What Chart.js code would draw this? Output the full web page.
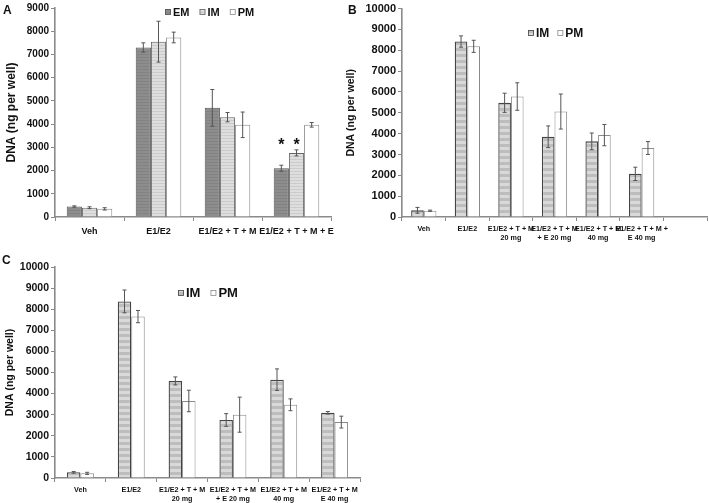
<!DOCTYPE html>
<html>
<head>
<meta charset="utf-8">
<script src="https://cdn.jsdelivr.net/npm/chart.js@4.4.0/dist/chart.umd.min.js"></script>
<style>
  body { margin: 0; background: #fff; width: 709px; height: 503px; overflow: hidden; position: relative; }
  canvas { position: absolute; }
  .tag { position: absolute; font: bold 12px "Liberation Sans", Arial, sans-serif; color: #111; }
</style>
</head>
<body>
<canvas id="chartA" width="345" height="250" style="left:0;top:0"></canvas>
<canvas id="chartB" width="369" height="260" style="left:340px;top:0"></canvas>
<canvas id="chartC" width="362" height="253" style="left:0;top:250px"></canvas>
<div class="tag" style="left:3px;top:3px">A</div>
<div class="tag" style="left:348px;top:3px">B</div>
<div class="tag" style="left:2px;top:253px">C</div>
<script>
// panel A
const catsA = ['Veh', 'E1/E2', 'E1/E2 + T + M', 'E1/E2 + T + M + E'];
const emA = [450, 7300, 4700, 2100];
const emErrA = [30, 200, 790, 130];
const imA = [400, 7550, 4300, 2760];
const imErrA = [40, 880, 200, 130];
const pmA = [350, 7730, 3970, 3970];
const pmErrA = [50, 230, 550, 100];
const starsEmA = [false, false, false, true];
const starsImA = [false, false, false, true];
const ticksA = [0, 1000, 2000, 3000, 4000, 5000, 6000, 7000, 8000, 9000];

// panel B (last category left empty, as in the figure)
const catsB = ['Veh', 'E1/E2', ['E1/E2 + T + M', '20 mg'], ['E1/E2 + T + M', '+ E 20 mg'],
               ['E1/E2 + T + M', '40 mg'], ['E1/E2 + T + M +', 'E 40 mg'], ''];
const imB = [320, 8420, 5480, 3850, 3630, 2070, null];
const imErrB = [140, 270, 460, 520, 400, 320, null];
const pmB = [300, 8190, 5780, 5060, 3930, 3310, null];
const pmErrB = [30, 290, 660, 840, 510, 310, null];

// panel C
const catsC = ['Veh', 'E1/E2', ['E1/E2 + T + M', '20 mg'], ['E1/E2 + T + M', '+ E 20 mg'],
               ['E1/E2 + T + M', '40 mg'], ['E1/E2 + T + M', 'E 40 mg']];
const imC = [270, 8370, 4600, 2750, 4660, 3090];
const imErrC = [40, 540, 190, 300, 510, 60];
const pmC = [220, 7650, 3650, 3000, 3470, 2650];
const pmErrC = [50, 290, 510, 830, 280, 280];

const ticksBC = [0, 1000, 2000, 3000, 4000, 5000, 6000, 7000, 8000, 9000, 10000];

const FONT = '"Liberation Sans", Arial, sans-serif';

function stripes(bg, band, period, bandH) {
  const c = document.createElement('canvas');
  c.width = 8; c.height = period;
  const g = c.getContext('2d');
  g.fillStyle = bg; g.fillRect(0, 0, 8, period);
  g.fillStyle = band; g.fillRect(0, 0, 8, bandH);
  return g.createPattern(c, 'repeat');
}

// error bars + asterisks, positioned through the chart's own scales
const errorBars = {
  id: 'errorBars',
  afterDatasetsDraw(chart) {
    const ctx = chart.ctx, y = chart.scales.y;
    ctx.save();
    chart.data.datasets.forEach((ds, i) => {
      if (!ds.err) return;
      chart.getDatasetMeta(i).data.forEach((bar, j) => {
        const v = ds.data[j], e = ds.err[j];
        if (v == null || e == null) return;
        const top = y.getPixelForValue(v + e), bot = y.getPixelForValue(v - e);
        ctx.strokeStyle = '#555';
        ctx.lineWidth = 1;
        ctx.beginPath();
        ctx.moveTo(bar.x, top); ctx.lineTo(bar.x, bot);
        ctx.moveTo(bar.x - 2, top); ctx.lineTo(bar.x + 2, top);
        ctx.moveTo(bar.x - 2, bot); ctx.lineTo(bar.x + 2, bot);
        ctx.stroke();
      });
    });
    // asterisks: one level per category, above the highest flagged error bar
    const metas = chart.data.datasets.map((ds, i) => chart.getDatasetMeta(i));
    chart.data.labels.forEach((lab, j) => {
      let hi = null;
      chart.data.datasets.forEach(ds => {
        if (ds.stars && ds.stars[j]) hi = Math.max(hi || 0, ds.data[j] + ds.err[j]);
      });
      if (hi == null) return;
      const py = y.getPixelForValue(hi) - 4;
      ctx.fillStyle = '#111';
      ctx.font = 'bold 16px ' + FONT;
      ctx.textAlign = 'center';
      ctx.textBaseline = 'bottom';
      chart.data.datasets.forEach((ds, i) => {
        if (ds.stars && ds.stars[j]) ctx.fillText('*', metas[i].data[j].x, py + 8);
      });
    });
    ctx.restore();
  }
};

// small legend drawn at a fixed spot inside the plot
const boxLegend = {
  id: 'boxLegend',
  afterDraw(chart, args, o) {
    const ctx = chart.ctx;
    let x = o.x;
    ctx.save();
    ctx.font = 'bold ' + o.size + 'px ' + FONT;
    ctx.textBaseline = 'middle';
    chart.data.datasets.forEach(ds => {
      ctx.fillStyle = ds.backgroundColor;
      ctx.fillRect(x, o.y - 3, 6, 6);
      ctx.strokeStyle = ds.borderColor;
      ctx.lineWidth = 0.8;
      ctx.strokeRect(x + 0.5, o.y - 2.5, 5, 5);
      ctx.fillStyle = '#111';
      ctx.fillText(ds.label, x + 8, o.y + 0.5);
      x += 8 + ctx.measureText(ds.label).width + o.gap;
    });
    ctx.restore();
  }
};

function makeChart(id, cats, datasets, cfg) {
  return new Chart(document.getElementById(id), {
    type: 'bar',
    data: { labels: cats, datasets: datasets },
    plugins: [errorBars, boxLegend],
    options: {
      responsive: false,
      animation: false,
      layout: { padding: cfg.padding },
      plugins: {
        legend: { display: false },
        tooltip: { enabled: false },
        boxLegend: cfg.legend
      },
      datasets: { bar: { barPercentage: 1, categoryPercentage: cfg.catPct } },
      scales: {
        x: {
          grid: { offset: true, drawOnChartArea: false, tickLength: 4, color: '#888', lineWidth: 1 },
          border: { color: '#8a8a8a', width: 1.6 },
          ticks: { autoSkip: false, maxRotation: 0, minRotation: 0, padding: cfg.xPad, color: '#111',
                   font: { family: FONT, weight: 'bold', size: cfg.xSize, lineHeight: 1.3 } },
          afterFit: s => { s.height = cfg.xHeight; }
        },
        y: {
          min: 0, max: cfg.max,
          afterBuildTicks: s => { s.ticks = cfg.ticks.map(v => ({ value: v })); },
          grid: { drawOnChartArea: false, tickLength: 4, color: '#888', lineWidth: 1 },
          border: { color: '#8a8a8a', width: 1.6 },
          ticks: { padding: 2, color: '#111', callback: v => String(v),
                   font: { family: FONT, weight: 'bold', size: cfg.ySize } },
          title: { display: true, text: 'DNA (ng per well)', color: '#111', padding: { top: cfg.titleLeft, bottom: 0 },
                   font: { family: FONT, weight: 'bold', size: cfg.titleSize } },
          afterFit: s => { s.width = cfg.yWidth; }
        }
      }
    }
  });
}

const emFill = stripes('#8d8d8d', '#828282', 3, 1);
const imFillA = stripes('#dedede', '#cbcbcb', 3, 1);
const imFill = stripes('#d9d9d9', '#bdbdbd', 6, 3);

makeChart('chartA', catsA, [
  { label: 'EM', data: emA, err: emErrA, stars: starsEmA, backgroundColor: emFill, borderColor: '#555', borderWidth: 1 },
  { label: 'IM', data: imA, err: imErrA, stars: starsImA, backgroundColor: imFillA, borderColor: '#666', borderWidth: 1 },
  { label: 'PM', data: pmA, err: pmErrA, backgroundColor: '#fff', borderColor: '#8a8a8a', borderWidth: 1 }
], { padding: { left: 0, top: 8, right: 14, bottom: 0 }, catPct: 0.66, xSize: 9, xPad: 5, xHeight: 33,
     max: 9000, ticks: ticksA, ySize: 10, titleSize: 12, titleLeft: 4, yWidth: 55,
     legend: { x: 165, y: 12, size: 11, gap: 10 } });

makeChart('chartB', catsB, [
  { label: 'IM', data: imB, err: imErrB, backgroundColor: imFill, borderColor: '#444', borderWidth: 1.3 },
  { label: 'PM', data: pmB, err: pmErrB, backgroundColor: '#fff', borderColor: '#8a8a8a', borderWidth: 1 }
], { padding: { left: 0, top: 7, right: 2, bottom: 0 }, catPct: 0.58, xSize: 7.2, xPad: 3, xHeight: 43,
     max: 10000, ticks: ticksBC, ySize: 11, titleSize: 10.5, titleLeft: 5, yWidth: 62,
     legend: { x: 188, y: 33, size: 12, gap: 8 } });

makeChart('chartC', catsC, [
  { label: 'IM', data: imC, err: imErrC, backgroundColor: imFill, borderColor: '#444', borderWidth: 1.3 },
  { label: 'PM', data: pmC, err: pmErrC, backgroundColor: '#fff', borderColor: '#8a8a8a', borderWidth: 1 }
], { padding: { left: 0, top: 17, right: 2, bottom: 0 }, catPct: 0.53, xSize: 7.2, xPad: 3, xHeight: 25,
     max: 10000, ticks: ticksBC, ySize: 10.5, titleSize: 10.5, titleLeft: 4, yWidth: 55,
     legend: { x: 178, y: 43, size: 13, gap: 10 } });
</script>
</body>
</html>
